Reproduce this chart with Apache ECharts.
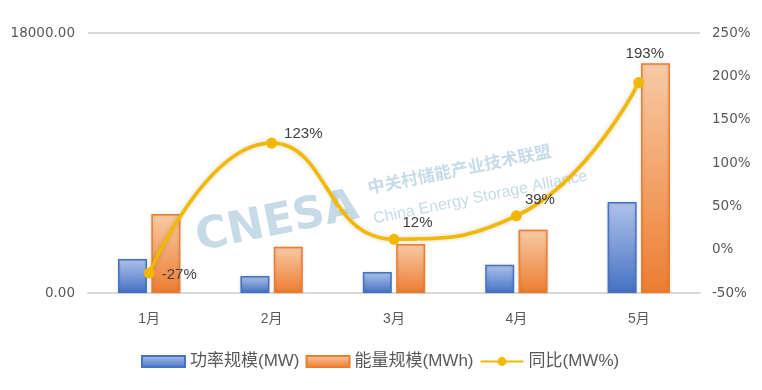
<!DOCTYPE html>
<html><head><meta charset="utf-8">
<script src="https://cdn.jsdelivr.net/npm/echarts@6/dist/echarts.min.js"></script>
<style>html,body{margin:0;padding:0;background:#fff}#c{width:762px;height:390px}</style>
</head><body><div id="c"></div>
<script>
const categories = ['1月','2月','3月','4月','5月'];
const powerMW = [2350, 1180, 1450, 1950, 6300];
const energyMWh = [5470, 3200, 3400, 4380, 15900];
const yoyPct = [-27, 123, 12, 39, 193];
const leftTicks = [0, 18000];
const rightTicks = [-50, 250, 50];

const labelPos = [
  {position:'right', offset:[2,2]},
  {position:'right', offset:[2,-9]},
  {position:'right', offset:[-2,-16]},
  {position:'right', offset:[-2,-16]},
  {position:'top', offset:[6,-11]}
];

const chart = echarts.init(document.getElementById('c'));
const F = 'Liberation Sans, Noto Sans CJK SC, sans-serif';
chart.setOption({
  animation:false,
  textStyle:{fontFamily:F},
  grid:{left:88,right:62,top:33,bottom:97,containLabel:false,outerBoundsMode:'none'},
  legend:{
    bottom:15, left:136, itemGap:6, itemWidth:43, itemHeight:11,
    textStyle:{fontSize:17,color:'#595959',fontFamily:F},
    data:[{name:'功率规模(MW)',icon:'rect'},{name:'能量规模(MWh)',icon:'rect'},{name:'同比(MW%)'}]
  },
  xAxis:{type:'category',data:categories,
    axisLine:{lineStyle:{color:'#d9d9d9',width:2}},axisTick:{show:false},
    axisLabel:{color:'#595959',fontSize:14,margin:19}},
  yAxis:[
    {type:'value',min:leftTicks[0],max:leftTicks[1],interval:18000,
     axisLine:{show:false},axisTick:{show:false},
     splitLine:{lineStyle:{color:'#d9d9d9',width:2}},
     axisLabel:{color:'#595959',fontSize:13.5,margin:13,fontFamily:'DejaVu Sans',formatter:v=>v.toFixed(2)}},
    {type:'value',min:rightTicks[0],max:rightTicks[1],interval:rightTicks[2],
     axisLine:{show:false},axisTick:{show:false},splitLine:{show:false},
     axisLabel:{color:'#595959',fontSize:13.5,margin:12,fontFamily:'DejaVu Sans',formatter:v=>v+'%'}}
  ],
  graphic:[
    {type:'text',left:192,top:185,rotation:0.2,z:0,style:{text:'CNESA',font:'bold 44px Verdana, DejaVu Sans',fill:'rgba(160,195,215,0.6)'}},
    {type:'text',left:366,top:142,rotation:0.2,z:0,style:{text:'中关村储能产业技术联盟',font:'bold 17px Noto Sans CJK SC',fill:'rgba(160,195,215,0.6)'}},
    {type:'text',left:372,top:168,rotation:0.2,z:0,style:{text:'China Energy Storage Alliance',font:'16px Liberation Sans',fill:'rgba(160,195,215,0.6)'}}
  ],
  series:[
    {name:'功率规模(MW)',type:'bar',data:powerMW,barWidth:29,barGap:'15%',
     itemStyle:{borderColor:'#4472c4',borderWidth:1.5,
       color:new echarts.graphic.LinearGradient(0,0,0,1,[{offset:0,color:'#b0c2ea'},{offset:1,color:'#4472c4'}]),
       shadowColor:'rgba(0,0,0,0.15)',shadowBlur:3}},
    {name:'能量规模(MWh)',type:'bar',data:energyMWh,barWidth:29,
     itemStyle:{borderColor:'#ed7d31',borderWidth:1.5,
       color:new echarts.graphic.LinearGradient(0,0,0,1,[{offset:0,color:'#f7caa5'},{offset:1,color:'#ed7d31'}]),
       shadowColor:'rgba(0,0,0,0.15)',shadowBlur:3}},
    {name:'同比(MW%)',type:'line',yAxisIndex:1,smooth:0.5,data:yoyPct.map((v,i)=>({value:v,label:labelPos[i]})),
     symbol:'circle',symbolSize:11,
     lineStyle:{color:'#f2b800',width:3.5,shadowColor:'rgba(120,100,0,0.3)',shadowBlur:4},
     itemStyle:{color:'#f2b800'},
     label:{show:true,formatter:p=>p.value+'%',fontSize:15,color:'#404040',fontFamily:F}}
  ]
});
</script></body></html>
